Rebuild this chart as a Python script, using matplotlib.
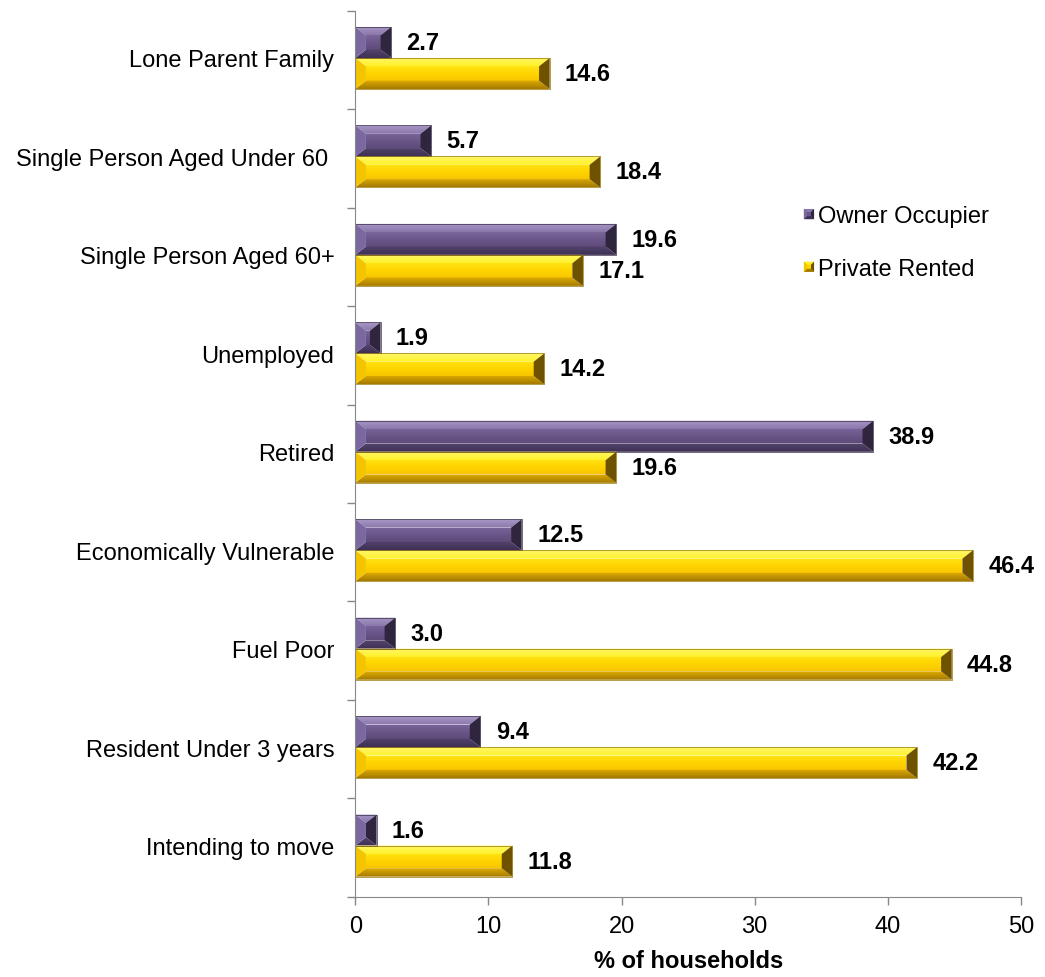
import numpy as np
import matplotlib.pyplot as plt
from matplotlib.patches import Polygon
from matplotlib.colors import LinearSegmentedColormap
from matplotlib.legend_handler import HandlerBase

plt.rcParams["font.family"] = ["Liberation Sans", "DejaVu Sans"]

categories = [
    "Lone Parent Family",
    "Single Person Aged Under 60 ",
    "Single Person Aged 60+",
    "Unemployed",
    "Retired",
    "Economically Vulnerable",
    "Fuel Poor",
    "Resident Under 3 years",
    "Intending to move",
]
owner_occupier = [2.7, 5.7, 19.6, 1.9, 38.9, 12.5, 3.0, 9.4, 1.6]
private_rented = [14.6, 18.4, 17.1, 14.2, 19.6, 46.4, 44.8, 42.2, 11.8]
series_names = ["Owner Occupier", "Private Rented"]
x_ticks = [0, 10, 20, 30, 40, 50]

# bevel colour sets: top band, face gradient (top->bottom), bottom band, ends, outline
PURPLE = dict(top=["#a898c6", "#8a77ab"], face=["#7a669b", "#6a5688", "#5e4b7a"],
              bottom=["#54436e", "#3e3154"], left="#7b68a0", right="#30253f",
              edge="#3a2e4c")
YELLOW = dict(top=["#fff86a", "#fff02a"], face=["#ffe414", "#ffd400", "#f8c600"],
              bottom=["#e0ac00", "#a47a00"], left="#f5c400", right="#6e5200",
              edge="#9a7400")


def gradient_fill(ax, colors, x0, x1, y_top, y_bot, clip, zorder):
    cmap = LinearSegmentedColormap.from_list("g", colors)
    grad = np.linspace(0, 1, 64).reshape(-1, 1)
    im = ax.imshow(grad, cmap=cmap, aspect="auto", origin="upper",
                   extent=(x0, x1, y_bot, y_top), zorder=zorder,
                   interpolation="bilinear")
    im.set_clip_path(clip)


def draw_bevel_bar(ax, w, yc, h, style, bx=0.8, by=0.085):
    yt, yb = yc - h / 2, yc + h / 2
    bx = min(bx, w / 2)
    zo = 2
    if w - 2 * bx > 0:
        face = Polygon([(bx, yt + by), (w - bx, yt + by), (w - bx, yb - by),
                        (bx, yb - by)], closed=True, facecolor="none",
                       edgecolor="none")
        ax.add_patch(face)
        gradient_fill(ax, style["face"], bx, w - bx, yt + by, yb - by, face, zo)
    top = Polygon([(0, yt), (w, yt), (w - bx, yt + by), (bx, yt + by)],
                  closed=True, facecolor="none", edgecolor="none")
    bot = Polygon([(0, yb), (w, yb), (w - bx, yb - by), (bx, yb - by)],
                  closed=True, facecolor="none", edgecolor="none")
    ax.add_patch(top)
    ax.add_patch(bot)
    gradient_fill(ax, style["top"], 0, w, yt, yt + by, top, zo + 0.1)
    gradient_fill(ax, style["bottom"], 0, w, yb - by, yb, bot, zo + 0.1)
    ends = [
        ([(0, yt), (bx, yt + by), (bx, yb - by), (0, yb)], style["left"]),
        ([(w, yt), (w - bx, yt + by), (w - bx, yb - by), (w, yb)], style["right"]),
    ]
    for pts, col in ends:
        ax.add_patch(Polygon(pts, closed=True, facecolor=col, edgecolor="none",
                             zorder=zo + 0.15))
    ax.add_patch(Polygon([(0, yt), (w, yt), (w, yb), (0, yb)], closed=True,
                         facecolor="none", edgecolor=style["edge"], lw=0.5,
                         zorder=zo + 0.2))


class BevelHandle:
    def __init__(self, style):
        self.style = style


class HandlerBevel(HandlerBase):
    def create_artists(self, legend, orig_handle, xdescent, ydescent,
                       width, height, fontsize, trans):
        s = orig_handle.style
        side = height * 0.62
        x0 = -xdescent + width - side
        y0 = -ydescent + (height - side) / 2
        x1, y1 = x0 + side, y0 + side
        b = side * 0.3
        cx0, cy0, cx1, cy1 = x0 + b, y0 + b, x1 - b, y1 - b
        parts = [
            ([(x0, y0), (x1, y0), (x1, y1), (x0, y1)], s["face"][1]),
            ([(x0, y1), (x1, y1), (cx1, cy1), (cx0, cy1)], s["top"][1]),
            ([(x0, y0), (x1, y0), (cx1, cy0), (cx0, cy0)], s["bottom"][1]),
            ([(x0, y0), (cx0, cy0), (cx0, cy1), (x0, y1)], s["left"]),
            ([(x1, y0), (cx1, cy0), (cx1, cy1), (x1, y1)], s["right"]),
        ]
        return [Polygon(p, closed=True, facecolor=c, edgecolor="none",
                        transform=trans) for p, c in parts]


fig = plt.figure(figsize=(10.45, 9.78), dpi=100)
ax = fig.add_axes([0.34, 0.082, 0.637, 0.906])

bar_h = 0.315
y = np.arange(len(categories))
for i in y:
    yo = i - bar_h / 2 - 0.02
    yp = i + bar_h / 2 - 0.02
    draw_bevel_bar(ax, owner_occupier[i], yo, bar_h, PURPLE)
    draw_bevel_bar(ax, private_rented[i], yp, bar_h, YELLOW)
    ax.text(owner_occupier[i] + 1.15, yo, f"{owner_occupier[i]:.1f}",
            va="center", ha="left", fontsize=17, fontweight="bold")
    ax.text(private_rented[i] + 1.15, yp, f"{private_rented[i]:.1f}",
            va="center", ha="left", fontsize=17, fontweight="bold")

ax.set_xlim(0, 50)
ax.set_ylim(len(categories) - 0.5, -0.5)
ax.set_xticks(x_ticks)
ax.set_xticklabels([str(t) for t in x_ticks], fontsize=17)
ax.set_yticks(y - 0.02)
ax.set_yticklabels(categories, fontsize=17)
ax.set_yticks(np.arange(len(categories) + 1) - 0.5, minor=True)
ax.tick_params(axis="y", which="major", length=0, pad=15)
ax.tick_params(axis="y", which="minor", length=6, color="#888888", width=1)
ax.tick_params(axis="x", length=6, color="#888888", width=1, pad=7)
for side in ("top", "right"):
    ax.spines[side].set_visible(False)
for side in ("left", "bottom"):
    ax.spines[side].set_color("#888888")
ax.set_xlabel("% of households", fontsize=17, fontweight="bold", labelpad=9)

handles = [BevelHandle(PURPLE), BevelHandle(YELLOW)]
fig.legend(handles, series_names, handler_map={BevelHandle: HandlerBevel()},
           loc="upper left", bbox_to_anchor=(0.765, 0.789), frameon=False,
           fontsize=17, handlelength=0.62, handletextpad=0.15, labelspacing=1.3,
           borderpad=0, borderaxespad=0)

fig.savefig("out.png", dpi=100)
